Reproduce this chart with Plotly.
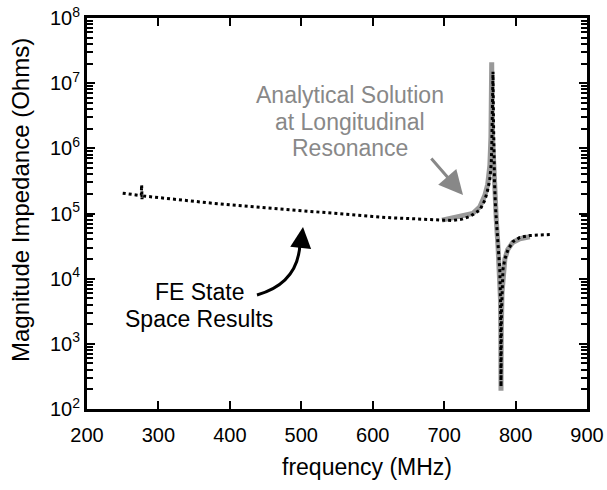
import plotly.graph_objects as go

# FE state space results (dotted black)
fe_freq = [250, 260, 270, 276, 276.5, 277, 277.5, 280, 300, 325, 350, 375, 400, 425, 450,
           475, 500, 525, 550, 575, 600, 625, 650, 675, 700, 712, 725, 736, 750, 757,
           761, 764, 766, 766.8, 767.6, 768.4, 769.0, 769.6, 770.5, 772, 774, 776, 778,
           779.0, 779.6, 780.2, 781, 782.4, 785, 789.4, 796.4, 806, 820, 835, 848]
fe_z = [2.05e5, 1.98e5, 1.92e5, 1.88e5, 2.75e5, 1.66e5, 1.87e5, 1.85e5, 1.75e5, 1.62e5,
        1.52e5, 1.44e5, 1.36e5, 1.29e5, 1.22e5, 1.16e5, 1.10e5, 1.04e5, 9.8e4, 9.4e4,
        9.0e4, 8.6e4, 8.3e4, 8.0e4, 7.9e4, 7.8e4, 8.2e4, 9.0e4, 1.13e5, 1.6e5,
        2.3e5, 3.4e5, 6.0e5, 1.2e6, 3.5e6, 1.5e7, 3.0e6, 8.0e5, 3.0e5, 1.2e5,
        5.0e4, 2.5e4, 1.3e4, 4.0e3, 2.2e2, 3.0e3, 8.0e3, 1.4e4, 2.0e4, 2.8e4,
        3.7e4, 4.3e4, 4.6e4, 4.7e4, 4.75e4]

# Analytical solution at longitudinal resonance (thick grey)
an_freq = [697, 705, 712, 725, 740, 750, 757, 761, 764, 765.5, 766.2, 766.6, 767.0,
           767.8, 769, 771, 773, 775.5, 777.5, 778.8, 779.3, 779.6, 780.0, 781,
           782.5, 785, 789, 796, 806, 820]
an_z = [7.9e4, 8.2e4, 8.6e4, 9.2e4, 1.0e5, 1.27e5, 1.9e5, 2.8e5, 5.5e5, 1.5e6, 5.0e6,
        2.1e7, 5.0e6, 1.5e6, 6.0e5, 2.0e5, 8.0e4, 3.0e4, 1.4e4, 5.0e3, 1.5e3, 1.9e2,
        1.5e3, 6.0e3, 1.3e4, 2.0e4, 2.8e4, 3.6e4, 4.1e4, 4.4e4]

x_ticks = [200, 300, 400, 500, 600, 700, 800, 900]
y_decades = [2, 3, 4, 5, 6, 7, 8]

FONT = "Liberation Sans, Arial, sans-serif"
W, H = 607, 490
L, R, T, B = 87, 20, 18, 81
PW, PH = W - L - R, H - T - B


def px(x):
    return (x - L) / PW


def py(y):
    return (H - B - y) / PH


minor_vals = [m * 10 ** d for d in y_decades[:-1] for m in range(2, 10)]

fig = go.Figure()
fig.add_trace(go.Scatter(x=an_freq, y=an_z, mode="lines", yaxis="y",
                         line=dict(color="#999999", width=5), showlegend=False))
fig.add_trace(go.Scatter(x=fe_freq, y=fe_z, mode="lines", yaxis="y2",
                         line=dict(color="black", width=3, dash="dot"), showlegend=False))

fig.update_layout(
    width=W, height=H,
    margin=dict(l=L, r=R, t=T, b=B, autoexpand=False),
    paper_bgcolor="white", plot_bgcolor="white",
    font=dict(family=FONT, size=20, color="black"),
    showlegend=False,
    xaxis=dict(
        range=[200, 900], tickvals=x_ticks, ticks="inside", ticklen=8, tickwidth=2,
        tickcolor="black", showline=True, linewidth=3, linecolor="black", mirror="ticks",
        showgrid=False, zeroline=False, automargin=False, ticklabelstandoff=6,
    ),
    yaxis=dict(
        type="log", range=[2, 8], tickvals=[10 ** d for d in y_decades],
        ticktext=["10<sup>%d</sup>" % d for d in y_decades],
        ticks="inside", ticklen=8, tickwidth=2, tickcolor="black",
        showline=True, linewidth=3, linecolor="black", mirror="ticks",
        showgrid=False, zeroline=False, automargin=False,
    ),
    # same log scale, carries the minor (2..9) ticks on both sides
    yaxis2=dict(
        type="log", range=[2, 8], overlaying="y", side="left", tickvals=minor_vals,
        showticklabels=False, ticks="inside", ticklen=6, tickwidth=2, tickcolor="black",
        showline=True, linewidth=3, linecolor="black", mirror="ticks",
        showgrid=False, zeroline=False, automargin=False,
    ),
)

# axis titles
fig.add_annotation(xref="paper", yref="paper", x=px(367), y=py(467),
                   xanchor="center", yanchor="middle", text="frequency (MHz)",
                   showarrow=False, font=dict(size=23, color="black"))
fig.add_annotation(xref="paper", yref="paper", x=px(20), y=py(200),
                   xanchor="center", yanchor="middle", text="Magnitude Impedance (Ohms)",
                   textangle=-90, showarrow=False, font=dict(size=24, color="black"))

# text annotations
for txt, yy in [("Analytical Solution", 95), ("at Longitudinal", 122), ("Resonance", 148)]:
    fig.add_annotation(xref="paper", yref="paper", x=px(350), y=py(yy),
                       xanchor="center", yanchor="middle", text=txt,
                       showarrow=False, font=dict(size=23, color="#888888"))
for txt, yy in [("FE State", 292), ("Space Results", 319)]:
    fig.add_annotation(xref="paper", yref="paper", x=px(199), y=py(yy),
                       xanchor="center", yanchor="middle", text=txt,
                       showarrow=False, font=dict(size=23, color="black"))

# grey straight arrow
fig.add_annotation(xref="paper", yref="paper", x=px(463), y=py(195),
                   ax=430 - 463, ay=157 - 195, axref="pixel", ayref="pixel",
                   text="", showarrow=True, arrowhead=2, arrowsize=1.6,
                   arrowwidth=3, arrowcolor="#888888")

# black curved arrow
path = "M {:.4f},{:.4f} C {:.4f},{:.4f} {:.4f},{:.4f} {:.4f},{:.4f}".format(
    px(257), py(295), px(285), py(287), px(299), py(270), px(300), py(243))
fig.add_shape(type="path", path=path, xref="paper", yref="paper",
              line=dict(color="black", width=3))
fig.add_annotation(xref="paper", yref="paper", x=px(303), y=py(227),
                   ax=-2, ay=18, axref="pixel", ayref="pixel",
                   text="", showarrow=True, arrowhead=2, arrowsize=1.4,
                   arrowwidth=3, arrowcolor="black")

fig.write_html("out.html")
